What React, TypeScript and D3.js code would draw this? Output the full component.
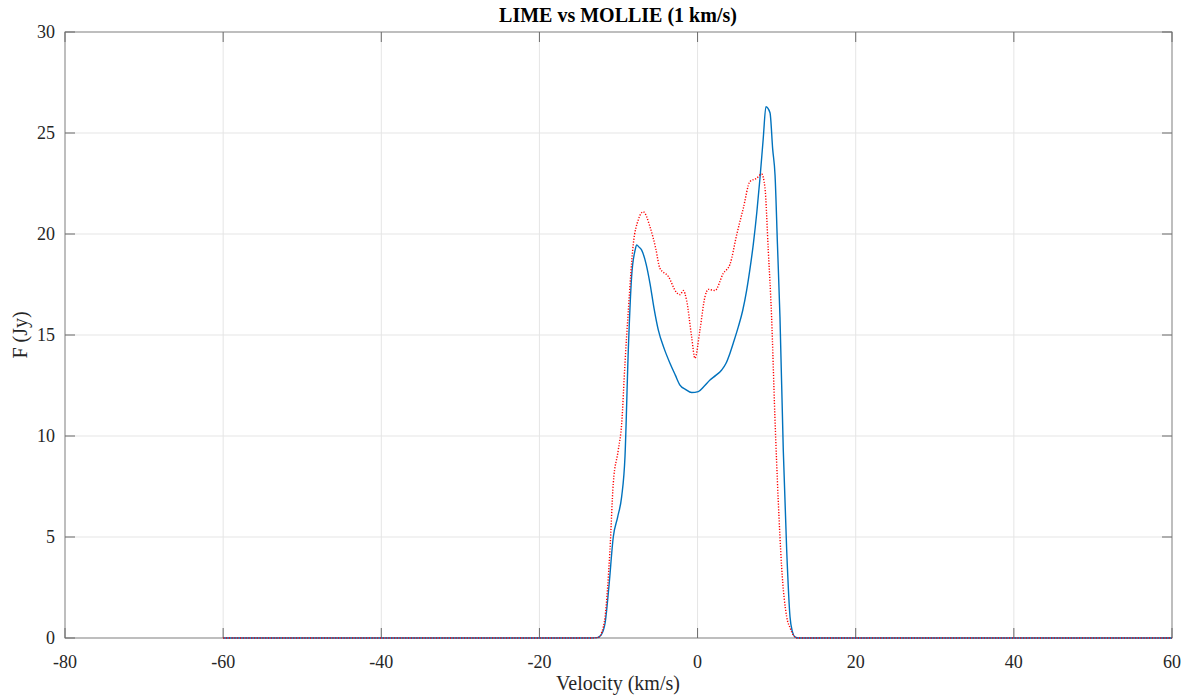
import React from "react";
import * as d3 from "d3";

const xTicks = [-80, -60, -40, -20, 0, 20, 40, 60];
const yTicks = [0, 5, 10, 15, 20, 25, 30];

const limeV = [-60, -13.5, -12.7, -12.2, -11.7, -11.2, -10.66, -10.1, -9.6, -9.18, -8.76, -8.34, -7.9, -7.7, -7.4, -7.07, -6.5, -6.02, -5.5, -4.97, -4.2, -3.49, -2.8, -2.23, -1.5, -0.75, 0.09, 0.8, 1.57, 2.3, 3.05, 3.6, 4.1, 4.6, 5.15, 5.7, 6.2, 6.6, 7.05, 7.5, 7.9, 8.3, 8.65, 9.16, 9.5, 9.8, 10.1, 10.42, 10.84, 11.27, 11.69, 12.0, 12.3, 12.8, 60];
const limeF = [0, 0, 0.02, 0.15, 0.73, 2.6, 5.0, 6.0, 7.0, 8.97, 14.26, 17.9, 19.2, 19.46, 19.35, 19.2, 18.5, 17.56, 16.3, 15.25, 14.3, 13.6, 13.0, 12.52, 12.3, 12.15, 12.2, 12.45, 12.77, 13.0, 13.27, 13.6, 14.1, 14.7, 15.4, 16.2, 17.2, 18.2, 19.5, 21.1, 22.8, 24.7, 26.3, 26.0, 24.2, 22.9, 19.5, 15.9, 9.3, 4.36, 1.05, 0.3, 0.06, 0, 0];

const mollieV = [-60, -13.5, -12.56, -12.1, -11.7, -11.08, -10.66, -10.03, -9.6, -9.18, -8.76, -8.13, -7.5, -6.87, -6.02, -5.3, -4.76, -3.7, -2.65, -2.2, -1.81, -1.38, -0.75, -0.33, 0.3, 0.94, 1.36, 2.2, 3.25, 4.1, 4.94, 5.78, 6.63, 7.47, 8.1, 8.52, 8.94, 9.36, 9.78, 10.2, 10.63, 11.27, 11.7, 12.1, 12.6, 60];
const mollieF = [0, 0, 0.03, 0.3, 1.05, 4.36, 7.66, 9.3, 10.6, 13.6, 16.2, 19.5, 20.7, 21.1, 20.36, 19.3, 18.3, 17.9, 17.1, 17.0, 17.2, 16.7, 14.9, 13.85, 15.25, 16.9, 17.26, 17.2, 18.05, 18.5, 19.95, 21.27, 22.6, 22.76, 22.97, 22.3, 19.2, 15.9, 10.95, 6.83, 3.53, 1.05, 0.5, 0.15, 0, 0];

const W = 1192, H = 696;
const M = { left: 65, right: 1172, top: 32, bottom: 638 };

export default function App() {
  const x = d3.scaleLinear().domain([-80, 60]).range([M.left, M.right]);
  const y = d3.scaleLinear().domain([0, 30]).range([M.bottom, M.top]);
  const line = d3.line<[number, number]>().x(d => x(d[0])).y(d => y(d[1])).curve(d3.curveMonotoneX);
  const lime = line(limeV.map((v, i) => [v, limeF[i]]) as [number, number][]) || "";
  const mollie = line(mollieV.map((v, i) => [v, mollieF[i]]) as [number, number][]) || "";
  const font = "'Liberation Serif', 'Times New Roman', serif";
  const tickLen = 10;
  return (
    <svg width={W} height={H} style={{ position: "absolute", left: 0, top: 0, background: "#fff" }}>
      <rect x={0} y={0} width={W} height={H} fill="#fff" />
      {xTicks.map(t => (
        <line key={"gx" + t} x1={x(t)} x2={x(t)} y1={M.top} y2={M.bottom} stroke="#e5e5e5" strokeWidth={1} />
      ))}
      {yTicks.map(t => (
        <line key={"gy" + t} x1={M.left} x2={M.right} y1={y(t)} y2={y(t)} stroke="#e5e5e5" strokeWidth={1} />
      ))}
      <rect x={M.left} y={M.top} width={M.right - M.left} height={M.bottom - M.top} fill="none" stroke="#8a8a8a" strokeWidth={1} />
      {xTicks.map(t => (
        <g key={"tx" + t}>
          <line x1={x(t)} x2={x(t)} y1={M.bottom} y2={M.bottom - tickLen} stroke="#6a6a6a" />
          <line x1={x(t)} x2={x(t)} y1={M.top} y2={M.top + tickLen} stroke="#6a6a6a" />
          <text x={x(t)} y={668} textAnchor="middle" fontFamily={font} fontSize={18} fill="#262626">{t}</text>
        </g>
      ))}
      {yTicks.map(t => (
        <g key={"ty" + t}>
          <line x1={M.left} x2={M.left + tickLen} y1={y(t)} y2={y(t)} stroke="#6a6a6a" />
          <line x1={M.right} x2={M.right - tickLen} y1={y(t)} y2={y(t)} stroke="#6a6a6a" />
          <text x={55} y={y(t) + 6} textAnchor="end" fontFamily={font} fontSize={18} fill="#262626">{t}</text>
        </g>
      ))}
      <path d={lime} fill="none" stroke="#0072BD" strokeWidth={1.4} />
      <path d={mollie} fill="none" stroke="#FF0000" strokeWidth={1.4} strokeDasharray="1.2 1.6" />
      <text x={618} y={22} textAnchor="middle" fontFamily={font} fontSize={20} fontWeight="bold" fill="#000">LIME vs MOLLIE (1 km/s)</text>
      <text x={618} y={690} textAnchor="middle" fontFamily={font} fontSize={20} fill="#262626">Velocity (km/s)</text>
      <text transform={`translate(27, ${(M.top + M.bottom) / 2}) rotate(-90)`} textAnchor="middle" fontFamily={font} fontSize={20} fill="#262626">F (Jy)</text>
    </svg>
  );
}
